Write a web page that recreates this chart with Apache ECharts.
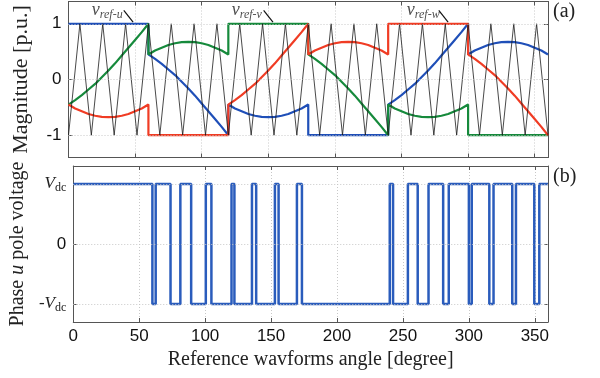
<!DOCTYPE html>
<html><head><meta charset="utf-8">
<script src="https://cdn.jsdelivr.net/npm/echarts@6/dist/echarts.min.js"></script>
<style>html,body{margin:0;padding:0;background:#fff}#c{width:600px;height:378px}</style>
</head><body><div id="c"></div>
<script>
// ---- data ----
const xTicks = [0, 50, 100, 150, 200, 250, 300, 350];
const magTicks = [-1, 0, 1];
const poleTicks = [-1, 0, 1];

// triangular carrier vertices (angle, level)
const carrierAngles = [0,8.57,17.14,25.71,34.29,42.86,51.43,60,68.57,77.14,85.71,94.29,102.86,111.43,120,128.57,137.14,145.71,154.29,162.86,171.43,180,188.57,197.14,205.71,214.29,222.86,231.43,240,248.57,257.14,265.71,274.29,282.86,291.43,300,308.57,317.14,325.71,334.29,342.86,351.43,360];
const carrierLevels = [-1,1,-1,1,-1,1,-1,1,-1,1,-1,1,-1,1,-1,1,-1,1,-1,1,-1,1,-1,1,-1,1,-1,1,-1,1,-1,1,-1,1,-1,1,-1,1,-1,1,-1,1,-1];

// reference waveforms [angle, value]
const refU = [[0,1],[60,1],
 [60,0.45],[65,0.37],[70,0.28],[75,0.18],[80,0.08],[85,-0.04],[90,-0.16],[95,-0.29],[100,-0.43],[105,-0.57],[110,-0.71],[115,-0.85],[120,-1],
 [120,-0.45],[125,-0.52],[130,-0.57],[135,-0.62],[140,-0.65],[145,-0.67],[150,-0.675],[155,-0.67],[160,-0.65],[165,-0.62],[170,-0.57],[175,-0.52],[180,-0.45],
 [180,-1],[240,-1],
 [240,-0.45],[245,-0.37],[250,-0.28],[255,-0.18],[260,-0.08],[265,0.04],[270,0.16],[275,0.29],[280,0.43],[285,0.57],[290,0.71],[295,0.85],[300,1],
 [300,0.45],[305,0.52],[310,0.57],[315,0.62],[320,0.65],[325,0.67],[330,0.675],[335,0.67],[340,0.65],[345,0.62],[350,0.57],[355,0.52],[360,0.45]];
const refV = [[0,-0.45],[5,-0.37],[10,-0.28],[15,-0.18],[20,-0.08],[25,0.04],[30,0.16],[35,0.29],[40,0.43],[45,0.57],[50,0.71],[55,0.85],[60,1],
 [60,0.45],[65,0.52],[70,0.57],[75,0.62],[80,0.65],[85,0.67],[90,0.675],[95,0.67],[100,0.65],[105,0.62],[110,0.57],[115,0.52],[120,0.45],
 [120,1],[180,1],
 [180,0.45],[185,0.37],[190,0.28],[195,0.18],[200,0.08],[205,-0.04],[210,-0.16],[215,-0.29],[220,-0.43],[225,-0.57],[230,-0.71],[235,-0.85],[240,-1],
 [240,-0.45],[245,-0.52],[250,-0.57],[255,-0.62],[260,-0.65],[265,-0.67],[270,-0.675],[275,-0.67],[280,-0.65],[285,-0.62],[290,-0.57],[295,-0.52],[300,-0.45],
 [300,-1],[360,-1]];
const refW = [[0,-0.45],[5,-0.52],[10,-0.57],[15,-0.62],[20,-0.65],[25,-0.67],[30,-0.675],[35,-0.67],[40,-0.65],[45,-0.62],[50,-0.57],[55,-0.52],[60,-0.45],
 [60,-1],[120,-1],
 [120,-0.45],[125,-0.37],[130,-0.28],[135,-0.18],[140,-0.08],[145,0.04],[150,0.16],[155,0.29],[160,0.43],[165,0.57],[170,0.71],[175,0.85],[180,1],
 [180,0.45],[185,0.52],[190,0.57],[195,0.62],[200,0.65],[205,0.67],[210,0.675],[215,0.67],[220,0.65],[225,0.62],[230,0.57],[235,0.52],[240,0.45],
 [240,1],[300,1],
 [300,0.45],[305,0.37],[310,0.28],[315,0.18],[320,0.08],[325,-0.04],[330,-0.16],[335,-0.29],[340,-0.43],[345,-0.57],[350,-0.71],[355,-0.85],[360,-1]];

// phase-u pole voltage: switching angles and level held from that angle on
const poleAngles = [0,60,62.5,73.75,81.2,89.4,100.5,104.75,120,122.2,135.5,138.7,152.9,155.7,169.6,173.4,240,242.5,253.75,261.2,269.4,280.5,284.75,300,302.2,315.5,318.7,332.9,335.7,349.6,353.4,360];
const poleLevels = [1,-1,1,-1,1,-1,1,-1,1,-1,1,-1,1,-1,1,-1,1,-1,1,-1,1,-1,1,-1,1,-1,1,-1,1,-1,1,1];

// annotations: [textAngle, textLevel, arrowFromAngle, arrowFromLevel, arrowToAngle, arrowToLevel, subscript]
const notes = [
 [17.5, 1.24, 41.5, 1.24, 48.5, 1.03, 'ref-u'],
 [122.5, 1.24, 146.5, 1.24, 153.5, 1.03, 'ref-v'],
 [254, 1.24, 278, 1.24, 285, 1.03, 'ref-w']
];

// ---- chart ----
const L = 68.5, R = 52;
const axisCol = '#555';
const gridLineStyle = {show: true, lineStyle: {color: '#c8c8c8', type: [1, 2], width: 1}};
const sans = 'Liberation Sans, Arial, sans-serif';
const serif = 'Liberation Serif, Times New Roman, serif';

function xAx(grid, pos, labels, name) {
  return {
    type: 'value', gridIndex: grid, position: pos, min: 0, max: 360, interval: 50,
    axisLine: {show: true, onZero: false, lineStyle: {color: axisCol, width: 1}},
    axisTick: {show: true, inside: true, length: 4, lineStyle: {color: axisCol}},
    axisLabel: {show: labels, showMaxLabel: false, color: '#111', fontFamily: sans, fontSize: 17, margin: 6},
    splitLine: pos === 'bottom' ? gridLineStyle : {show: false},
    name: name || '', nameLocation: 'middle', nameGap: 28,
    nameTextStyle: {fontFamily: serif, fontSize: 20, color: '#222'}
  };
}
function yAx(grid, pos, lim, ticks, labels, fmt, name, nameSize) {
  return {
    type: 'value', gridIndex: grid, position: pos, min: -lim, max: lim,
    axisLine: {show: true, onZero: false, lineStyle: {color: axisCol, width: 1}},
    axisTick: {show: true, inside: true, length: 4, lineStyle: {color: axisCol}, customValues: ticks},
    axisLabel: {show: labels, customValues: ticks, color: '#111', fontFamily: sans, fontSize: 17, margin: 7,
      formatter: fmt, rich: {
        v: {fontFamily: serif, fontStyle: 'italic', fontSize: 17, color: '#222'},
        m: {fontFamily: serif, fontSize: 17, color: '#222'},
        s: {fontFamily: serif, fontSize: 12, color: '#222', padding: [7, 0, 0, 0]}
      }},
    splitLine: {show: false},
    name: name || '', nameLocation: 'middle', nameRotate: 90, nameGap: 36,
    nameTextStyle: {fontFamily: serif, fontSize: nameSize || 20, color: '#222',
      rich: {n: {fontFamily: serif, fontSize: nameSize || 20, color: '#222'}, i: {fontFamily: serif, fontStyle: 'italic', fontSize: nameSize || 20, color: '#222'}}}
  };
}

const poleFmt = function (v) {
  if (v === 1) return '{v|V}{s|dc}';
  if (v === -1) return '{m|-}{v|V}{s|dc}';
  return '0';
};

const hLines = (ticks) => ({
  silent: true, symbol: 'none', animation: false, label: {show: false},
  lineStyle: {color: '#c8c8c8', type: [1, 2], width: 1},
  data: ticks.map(t => ({yAxis: t}))
});

const arrowLines = {
  silent: true, animation: false, symbol: ['none', 'arrow'], symbolSize: [0, 7],
  label: {show: false}, lineStyle: {color: '#111', width: 1.2, type: 'solid'},
  data: notes.map(n => [{coord: [n[2], n[3]]}, {coord: [n[4], n[5]]}])
};

const option = {
  animation: false,
  backgroundColor: '#fff',
  grid: [
    {left: L, right: R, top: 1.5, height: 156},
    {left: L, right: R, top: 166, height: 156}
  ],
  xAxis: [
    xAx(0, 'bottom', false),
    xAx(0, 'top', false),
    xAx(1, 'bottom', true, 'Reference wavforms angle [degree]'),
    xAx(1, 'top', false)
  ],
  yAxis: [
    yAx(0, 'left', 1.4, magTicks, true, null, 'Magnitude [p.u.]', 22),
    yAx(0, 'right', 1.4, magTicks, false),
    yAx(1, 'left', 1.3, poleTicks, true, poleFmt, '{n|Phase }{i|u}{n| pole voltage}', 20),
    yAx(1, 'right', 1.3, poleTicks, false)
  ],
  series: [
    {type: 'line', xAxisIndex: 0, yAxisIndex: 0, data: [], z: 1, markLine: hLines(magTicks)},
    {type: 'line', xAxisIndex: 2, yAxisIndex: 2, data: [], z: 1, markLine: hLines(poleTicks)},
    {type: 'line', name: 'v_ref-u', xAxisIndex: 0, yAxisIndex: 0, data: refU, showSymbol: false,
      lineStyle: {color: '#1f4fb8', width: 2.2}, z: 3},
    {type: 'line', name: 'v_ref-v', xAxisIndex: 0, yAxisIndex: 0, data: refV, showSymbol: false,
      lineStyle: {color: '#168a3c', width: 2.2}, z: 3},
    {type: 'line', name: 'v_ref-w', xAxisIndex: 0, yAxisIndex: 0, data: refW, showSymbol: false,
      lineStyle: {color: '#f03c24', width: 2.2}, z: 3},
    {type: 'line', name: 'carrier', xAxisIndex: 0, yAxisIndex: 0,
      data: carrierAngles.map((a, i) => [a, carrierLevels[i]]), showSymbol: false,
      lineStyle: {color: '#1a1a1a', width: 0.8}, z: 4, markLine: arrowLines},
    {type: 'scatter', xAxisIndex: 0, yAxisIndex: 0, symbolSize: 0, silent: true, z: 6,
      data: notes.map(n => ({value: [n[0], n[1]], sub: n[6]})),
      label: {show: true, position: 'right', distance: 0,
        formatter: p => '{v|v}{s|' + p.data.sub + '}',
        rich: {
          v: {fontFamily: serif, fontStyle: 'italic', fontSize: 18, color: '#222'},
          s: {fontFamily: serif, fontStyle: 'italic', fontSize: 12, color: '#222', padding: [8, 0, 0, 0]}
        }}},
    {type: 'line', name: 'pole u', xAxisIndex: 2, yAxisIndex: 2, step: 'end',
      data: poleAngles.map((a, i) => [a, poleLevels[i]]), showSymbol: false,
      lineStyle: {color: '#2a5cbc', width: 2.5}, z: 3}
  ],
  graphic: [
    {type: 'text', left: 553, top: 2, style: {text: '(a)', font: '20px ' + serif, fill: '#222'}},
    {type: 'text', left: 553, top: 167, style: {text: '(b)', font: '20px ' + serif, fill: '#222'}}
  ]
};

const chart = echarts.init(document.getElementById('c'), null, {renderer: 'canvas'});
chart.setOption(option);
</script>
</body></html>
